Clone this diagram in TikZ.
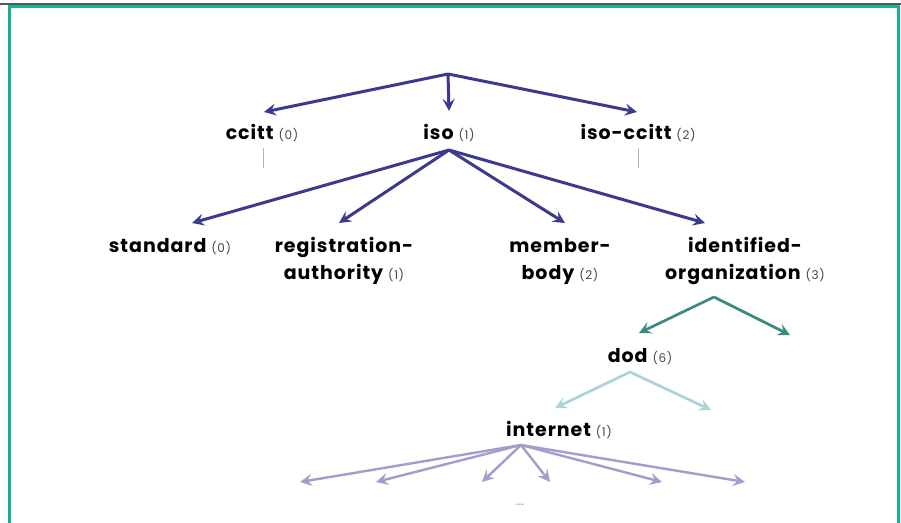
\documentclass[tikz,border=0pt]{standalone}
\usepackage{fontspec}
\setmainfont{Poppins}
\usetikzlibrary{arrows.meta}

\definecolor{navy}{RGB}{59,58,143}
\definecolor{deepteal}{RGB}{58,140,130}
\definecolor{paleteal}{RGB}{172,212,214}
\definecolor{lavender}{RGB}{160,158,202}
\definecolor{frameteal}{RGB}{22,178,152}
\newcommand{\arcnum}[1]{{\fontsize{12}{14}\selectfont\mdseries\color{black!72}(#1)}}

\begin{document}
\begin{tikzpicture}[x=1pt, y=-1pt, lbl/.style = {inner sep=0pt, anchor=base, font=\fontsize{19}{27}\selectfont\bfseries\addfontfeatures{LetterSpace=5}},
  arc/.style = {-{Stealth[length=12pt, width=12pt, inset=4.5pt]}, line width=3pt}]
  \useasboundingbox (0,0) rectangle (901,522);
  \draw[black!65, line width=2pt] (0,4) -- (901,4);
  \draw[frameteal, line width=3.5pt] (9.5,530) -- (9.5,6.5) -- (898.5,6.5) -- (898.5,530);

  \coordinate (root) at (448,74);
  \node[lbl] (ccitt) at (262,139) {ccitt \arcnum{0}};
  \node[lbl] (iso) at (449,139) {iso \arcnum{1}};
  \node[lbl] (isoccitt) at (638,139) {iso-ccitt \arcnum{2}};
  \node[lbl] (std) at (170,252) {standard \arcnum{0}};
  \node[lbl, align=center] (regauth) at (344,279) {registration-\\authority \arcnum{1}};
  \node[lbl, align=center] (member) at (560,279) {member-\\body \arcnum{2}};
  \node[lbl, align=center] (idorg) at (745,279) {identified-\\organization \arcnum{3}};
  \node[lbl] (dod) at (640,362) {dod \arcnum{6}};
  \node[lbl] (internet) at (559,436) {internet \arcnum{1}};
  \node[lbl, font=\fontsize{13}{14}\selectfont, text=black!40] (more) at (520,505) {...};

  \coordinate (ccittsub) at (263,168);
  \coordinate (isoccittsub) at (638,168);
  \coordinate (idorgx) at (790,335);
  \coordinate (dodx) at (711,410);
  \coordinate (net1) at (300,482);
  \coordinate (net2) at (376,482);
  \coordinate (net3) at (482,482);
  \coordinate (net4) at (550,482);
  \coordinate (net5) at (662,482);
  \coordinate (net6) at (745,482);

  \draw[arc, navy] (root) -- ([xshift=2pt, yshift=27pt]ccitt.base);
  \draw[arc, navy] (root) -- ([yshift=28pt]iso.base);
  \draw[arc, navy] (root) -- ([xshift=-1pt, yshift=27pt]isoccitt.base);
  \draw[black!30, line width=0.8pt] ([xshift=1pt, yshift=-9pt]ccitt.base) -- (ccittsub);
  \draw[black!30, line width=0.8pt] ([yshift=-9pt]isoccitt.base) -- (isoccittsub);

  \draw[arc, navy] ([yshift=-11pt]iso.base) -- ([xshift=22pt, yshift=29pt]std.base);
  \draw[arc, navy] ([yshift=-11pt]iso.base) -- ([xshift=-5pt, yshift=56pt]regauth.base);
  \draw[arc, navy] ([yshift=-11pt]iso.base) -- ([xshift=5pt, yshift=56pt]member.base);
  \draw[arc, navy] ([yshift=-11pt]iso.base) -- ([xshift=-40pt, yshift=56pt]idorg.base);

  \draw[arc, deepteal, line width=2.7pt] ([xshift=-31pt, yshift=-18pt]idorg.base) -- ([xshift=-1pt, yshift=29pt]dod.base);
  \draw[arc, deepteal, line width=2.7pt] ([xshift=-31pt, yshift=-18pt]idorg.base) -- (idorgx);

  \draw[arc, paleteal, line width=2.7pt] ([xshift=-10pt, yshift=-10pt]dod.base) -- ([xshift=-4pt, yshift=28pt]internet.base);
  \draw[arc, paleteal, line width=2.7pt] ([xshift=-10pt, yshift=-10pt]dod.base) -- (dodx);

  \foreach \n in {1,...,6}
    \draw[arc, lavender, line width=2.4pt] ([xshift=-38pt, yshift=-9pt]internet.base) -- (net\n);

\end{tikzpicture}
\end{document}
